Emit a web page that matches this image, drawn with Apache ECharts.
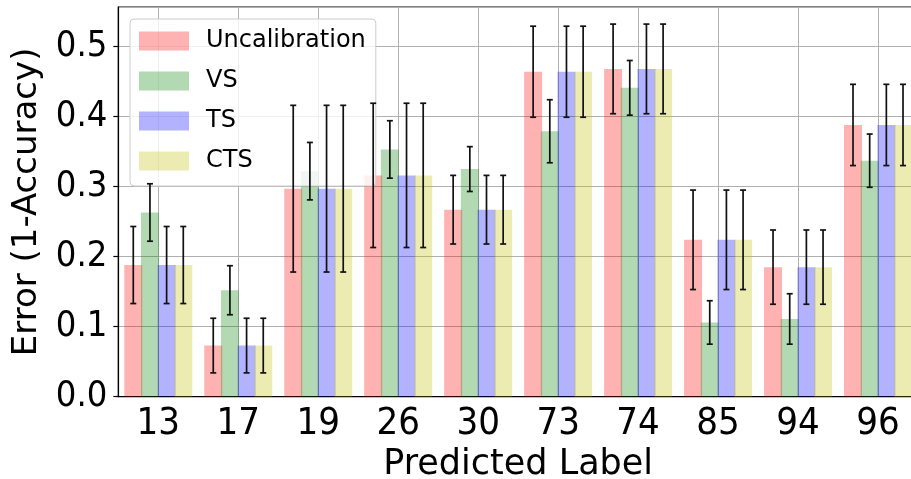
<!DOCTYPE html>
<html><head><meta charset="utf-8">
<script src="https://cdn.jsdelivr.net/npm/echarts@6/dist/echarts.min.js"></script>
<style>html,body{margin:0;padding:0;background:#fff}#c{width:911px;height:479px}</style>
</head><body><div id="c"></div>
<script>
const categories = ['13','17','19','26','30','73','74','85','94','96'];
const seriesNames = ['Uncalibration','VS','TS','CTS'];
const uncal    = [0.188, 0.073, 0.297, 0.316, 0.267, 0.464, 0.468, 0.224, 0.185, 0.388];
const uncalErr = [0.055, 0.039, 0.119, 0.103, 0.049, 0.065, 0.064, 0.071, 0.053, 0.058];
const vs       = [0.263, 0.152, 0.322, 0.353, 0.325, 0.379, 0.441, 0.106, 0.111, 0.337];
const vsErr    = [0.041, 0.035, 0.041, 0.041, 0.032, 0.045, 0.039, 0.031, 0.036, 0.038];
const ts       = [0.188, 0.073, 0.297, 0.316, 0.267, 0.464, 0.468, 0.224, 0.185, 0.388];
const tsErr    = [0.055, 0.039, 0.119, 0.103, 0.049, 0.065, 0.064, 0.071, 0.053, 0.058];
const cts      = [0.188, 0.073, 0.297, 0.316, 0.267, 0.464, 0.468, 0.224, 0.185, 0.388];
const ctsErr   = [0.055, 0.039, 0.119, 0.103, 0.049, 0.065, 0.064, 0.071, 0.053, 0.058];
const yTicks = [0.0, 0.1, 0.2, 0.3, 0.4, 0.5];

const values = [uncal, vs, ts, cts];
const errs = [uncalErr, vsErr, tsErr, ctsErr];
const colors = ['rgba(255,0,0,0.3)','rgba(0,128,0,0.3)','rgba(0,0,255,0.3)','rgba(191,191,0,0.3)'];
const FONT = 'DejaVu Sans';
const TICKFONT = '"DejaVu Sans Condensed", "DejaVu Sans"';
const BAR_W = 18, BAR_GAP = -0.074;
const STEP = BAR_W * (1 + BAR_GAP);

const series = [];
values.forEach((v, i) => {
  series.push({
    name: seriesNames[i], type: 'bar', data: v,
    barWidth: BAR_W, barGap: (BAR_GAP*100)+'%',
    itemStyle: {color: colors[i]}, z: 2
  });
});
values.forEach((v, i) => {
  const off = (i - 1.5) * STEP;
  series.push({
    type: 'custom', z: 5, silent: true,
    data: v.map((val, k) => [k, val - errs[i][k], val + errs[i][k]]),
    renderItem: function (params, api) {
      const lo = api.coord([api.value(0), api.value(1)]);
      const hi = api.coord([api.value(0), api.value(2)]);
      const x = lo[0] + off, cw = 3;
      const st = {stroke: '#111', lineWidth: 1.7};
      return {type: 'group', children: [
        {type: 'line', shape: {x1: x, y1: lo[1], x2: x, y2: hi[1]}, style: st},
        {type: 'line', shape: {x1: x-cw, y1: lo[1], x2: x+cw, y2: lo[1]}, style: st},
        {type: 'line', shape: {x1: x-cw, y1: hi[1], x2: x+cw, y2: hi[1]}, style: st}
      ]};
    }
  });
});

const chart = echarts.init(document.getElementById('c'));
chart.setOption({
  animation: false,
  textStyle: {fontFamily: FONT},
  grid: {left: 118.3, right: -7, top: 7, bottom: 82.3, containLabel: false, outerBoundsMode: 'none',
    show: true, borderColor: '#000', borderWidth: 1.2, backgroundColor: 'transparent'},
  legend: {
    orient: 'vertical', left: 130, top: 19,
    padding: [10, 10, 13, 9],
    itemWidth: 50, itemHeight: 19, itemGap: 16,
    icon: 'rect',
    data: seriesNames,
    textStyle: {fontFamily: FONT, fontSize: 24, color: '#000', lineHeight: 19, padding: [0, 0, 0, 12]},
    backgroundColor: 'rgba(255,255,255,0.8)',
    borderColor: '#cccccc', borderWidth: 1, borderRadius: 4
  },
  xAxis: {
    type: 'category', data: categories,
    name: 'Predicted Label', nameLocation: 'middle', nameGap: 44,
    nameTextStyle: {fontFamily: FONT, fontSize: 35, color: '#000'},
    axisLine: {lineStyle: {color: '#000', width: 1.2}},
    axisTick: {alignWithLabel: true, length: 5, lineStyle: {color: '#000', width: 1.2}},
    axisLabel: {fontFamily: TICKFONT, fontSize: 38, color: '#000', margin: 8},
    splitLine: {show: true, alignWithLabel: true, lineStyle: {color: '#b0b0b0', width: 1}}
  },
  yAxis: {
    type: 'value', min: 0, max: 0.5564, interval: 0.1,
    name: 'Error (1-Accuracy)', nameLocation: 'middle', nameGap: 74, nameRotate: 90,
    nameTextStyle: {fontFamily: FONT, fontSize: 34, color: '#000'},
    axisLine: {show: true, lineStyle: {color: '#000', width: 1.2}},
    axisTick: {show: true, length: 5, lineStyle: {color: '#000', width: 1.2}},
    axisLabel: {fontFamily: TICKFONT, fontSize: 36, color: '#000', margin: 11, showMaxLabel: false,
      formatter: v => (yTicks.some(t => Math.abs(t - v) < 1e-6) ? v.toFixed(1) : '')},
    splitLine: {show: true, lineStyle: {color: '#b0b0b0', width: 1}}
  },
  series: series
});
</script></body></html>
